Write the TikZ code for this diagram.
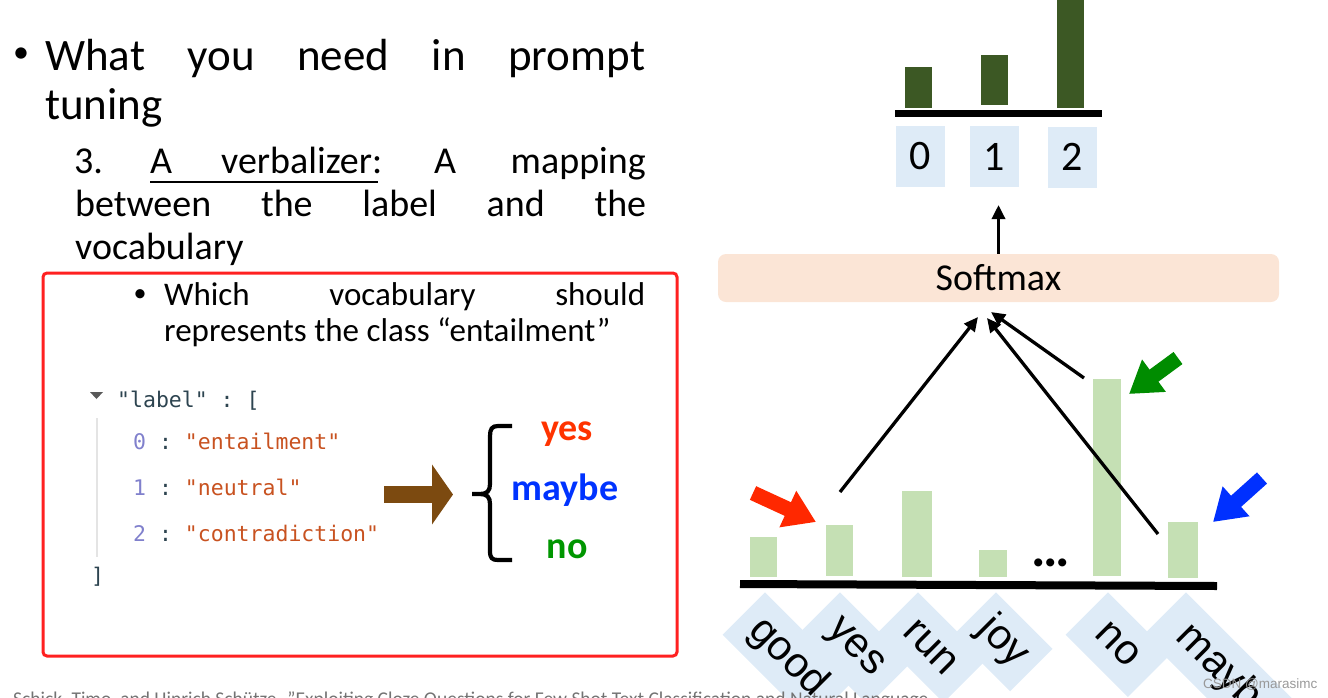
\documentclass[tikz,border=0pt]{standalone}
\usepackage{fontspec}
\setmainfont{Carlito}
\newfontfamily\monofont{DejaVu Sans Mono}
\newfontfamily\arialfont{Liberation Sans}
\usetikzlibrary{arrows.meta}
\definecolor{darkbar}{RGB}{60,88,36}
\definecolor{lightbar}{RGB}{197,224,180}
\definecolor{lblue}{RGB}{222,235,247}
\definecolor{smfill}{RGB}{251,229,214}
\definecolor{boxred}{RGB}{255,32,32}
\definecolor{brownarr}{RGB}{124,74,16}
\definecolor{yesred}{RGB}{255,51,0}
\definecolor{maybeblue}{RGB}{0,51,255}
\definecolor{nogreen}{RGB}{0,150,0}
\definecolor{arrred}{RGB}{255,40,0}
\definecolor{arrgreen}{RGB}{0,140,0}
\definecolor{arrblue}{RGB}{0,48,255}
\definecolor{jnum}{RGB}{128,128,204}
\definecolor{jstr}{RGB}{200,82,32}
\definecolor{jkey}{RGB}{45,68,80}
\definecolor{jline}{RGB}{228,228,228}
\newcommand{\mainsz}{\fontsize{45}{54}\selectfont}
\newcommand{\subsz}{\fontsize{38}{46}\selectfont}
\newcommand{\innersz}{\fontsize{33}{40}\selectfont}
\newcommand{\jsz}{\monofont\fontsize{21.5}{26}\selectfont}
\begin{document}
\begin{tikzpicture}[x=1pt,y=-1pt,
  txt/.style={inner sep=0pt, anchor=base west},
  jtxt/.style={inner sep=0pt, anchor=base west, font=\jsz},
  vword/.style={inner sep=0pt, anchor=base, font=\bfseries\fontsize{38}{46}\selectfont},
  numbox/.style={fill=lblue, minimum width=49pt, minimum height=61pt, inner sep=0pt, font=\fontsize{42}{50}\selectfont},
  smbox/.style={fill=smfill, rounded corners=8pt, minimum width=561pt, minimum height=48pt, inner sep=0pt, font=\fontsize{38}{46}\selectfont},
  blkarr/.style={line width=3.3pt, -{Triangle[length=14pt,width=13pt]}},
  blockarr/.style={line width=15pt, -{Triangle[length=31pt,width=38pt]}},
  wordbox/.style={fill=lblue, rotate=-45, anchor=north west, minimum height=60pt, inner sep=0pt, font=\arialfont\fontsize{42}{50}\selectfont},
]
\useasboundingbox (0,0) rectangle (1328,697);
\clip (0,0) rectangle (1328,697);

% ---------- left text ----------
\node[inner sep=0pt, font=\fontsize{32}{38}\selectfont] (b1) at (21,55) {\textbullet};
\node[txt, font=\mainsz] (l1) at (45,70) {\makebox[600pt][s]{What you need in prompt}};
\node[txt, font=\mainsz] (l2) at (45,119) {tuning};

\node[txt, font=\subsz] (s1a) at (74,173) {3.};
\node[txt, font=\subsz] (s1b) at (150,173) {A};
\node[txt, font=\subsz] (s1c) at (221,173) {verbalizer:};
\node[txt, font=\subsz] (s1d) at (434,173) {A};
\node[inner sep=0pt, anchor=base east, font=\subsz] (s1e) at (646,173) {mapping};
\draw[line width=1.6pt] (150,182) -- (378,182);
\node[txt, font=\subsz] (s2) at (75,216) {\makebox[571pt][s]{between the label and the}};
\node[txt, font=\subsz] (s3) at (75,259) {vocabulary};

% ---------- red box ----------
\draw[boxred, line width=3pt, rounded corners=4pt] (43,273) rectangle (677,656);
\node[inner sep=0pt, font=\fontsize{26}{30}\selectfont] (b2) at (140,296) {\textbullet};
\node[txt, font=\innersz] (i1) at (164,305) {\makebox[481pt][s]{Which vocabulary should}};
\node[txt, font=\innersz] (i2) at (164,341) {represents the class “entailment”};

% JSON
\fill[black!65] (90,392) -- (103,392) -- (96.5,399) -- cycle;
\node[jtxt, text=jkey] (j0) at (117,407) {"label"\ :\ [};
\draw[jline, line width=1.5pt] (97,418) -- (97,557);
\node[jtxt] (j1) at (133,449) {\textcolor{jnum}{0}\textcolor{jkey}{\ :\ }\textcolor{jstr}{"entailment"}};
\node[jtxt] (j2) at (133,495) {\textcolor{jnum}{1}\textcolor{jkey}{\ :\ }\textcolor{jstr}{"neutral"}};
\node[jtxt] (j3) at (133,541) {\textcolor{jnum}{2}\textcolor{jkey}{\ :\ }\textcolor{jstr}{"contradiction"}};
\node[jtxt, text=jkey] (j4) at (91,583) {]};

% brown arrow
\coordinate (ba1) at (384,494.5);
\coordinate (ba2) at (453,494.5);
\draw[brownarr, line width=17pt, -{Triangle[length=21pt,width=59pt]}] (ba1) -- (ba2);

% brace
\draw[line width=4.2pt]
  (512,426) -- (498,426) .. controls (492,426) and (490,429) .. (490,436) -- (490,484)
  .. controls (490,491) and (487,494) .. (480,494) -- (472,494)
  (480,494) .. controls (487,494) and (490,497) .. (490,504) -- (490,551)
  .. controls (490,558) and (492,560) .. (498,560) -- (512,560);

\node[vword, text=yesred] (vyes) at (567,440) {yes};
\node[vword, text=maybeblue] (vmaybe) at (565,500) {maybe};
\node[vword, text=nogreen] (vno) at (567,558) {no};

% ---------- right: output chart ----------
\fill[darkbar] (905,67) rectangle (932,108);
\fill[darkbar] (981,55) rectangle (1008,105);
\fill[darkbar] (1057,-1) rectangle (1084,108);
\fill[black] (895,110) rectangle (1102,117);
\node[numbox] (n0) at (920.5,156.5) {0};
\node[numbox] (n1) at (994.5,156.5) {1};
\node[numbox] (n2) at (1072.5,157) {2};

\node[smbox] (sm) at (998.5,278) {Softmax};
\coordinate (smtip) at (998.5,205);
\draw[blkarr] (sm.north) -- (smtip);

% ---------- vocabulary chart ----------
\fill[lightbar] (750,537) rectangle (777,577);
\fill[lightbar] (826,525) rectangle (853,576);
\fill[lightbar] (902,491) rectangle (932,577);
\fill[lightbar] (979,550) rectangle (1007,577);
\fill[lightbar] (1093,379) rectangle (1121,576);
\fill[lightbar] (1168,522) rectangle (1198,578);
\node[inner sep=0pt, anchor=base, font=\bfseries\fontsize{54}{60}\selectfont] (dots) at (1051,566) {.\kern-2.5pt.\kern-2.5pt.};
\draw[line width=8pt] (740,584) -- (1217,586);

\coordinate (yesS) at (840,492);
\coordinate (yesT) at (978,317);
\coordinate (mayS) at (1158,534);
\coordinate (mayT) at (987,318);
\coordinate (noS) at (1084,378);
\coordinate (noT) at (991,312);
\draw[blkarr] (yesS) -- (yesT);
\draw[blkarr] (mayS) -- (mayT);
\draw[blkarr] (noS) -- (noT);

\coordinate (raS) at (753,493);
\coordinate (raT) at (816,522);
\coordinate (gaS) at (1178,358);
\coordinate (gaT) at (1129,394);
\coordinate (baS) at (1262,478);
\coordinate (baT) at (1213,522);
\draw[arrred, blockarr] (raS) -- (raT);
\draw[arrgreen, blockarr] (gaS) -- (gaT);
\draw[arrblue, blockarr] (baS) -- (baT);

% word boxes
\node[wordbox, minimum width=125pt] (wgood) at (765,592) {good};
\node[wordbox, minimum width=100pt] (wyes) at (840,592) {yes};
\node[wordbox, minimum width=96pt] (wrun) at (918,592) {run};
\node[wordbox, minimum width=80pt] (wjoy) at (996,592) {joy};
\node[wordbox, minimum width=88pt] (wno) at (1108,592) {no};
\node[wordbox, minimum width=175pt] (wmaybe) at (1186,592) {maybe};

% footer
\node[txt, text=black!55, font=\fontsize{19.5}{24}\selectfont] (cite) at (13,705) {Schick, Timo, and Hinrich Schütze. "Exploiting Cloze Questions for Few Shot Text Classification and Natural Language};
\node[txt, text=black!40, font=\arialfont\fontsize{13.5}{16}\selectfont] (wm) at (1203,688) {CSDN @marasimc};
\end{tikzpicture}
\end{document}
